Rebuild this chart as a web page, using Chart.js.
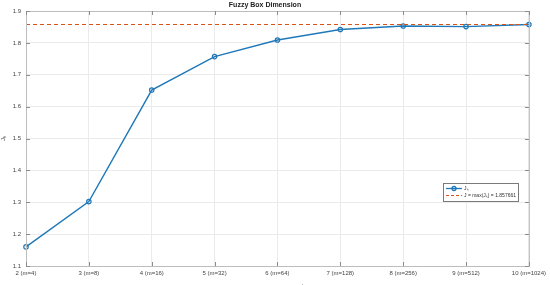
<!DOCTYPE html>
<html>
<head>
<meta charset="utf-8">
<script src="https://cdn.jsdelivr.net/npm/chart.js@4/dist/chart.umd.min.js"></script>
<style>
  html, body { margin: 0; padding: 0; overflow: hidden; background: #fff; }
  #wrap { width: 550px; height: 293px; }
</style>
</head>
<body>
<div id="wrap"><canvas id="chart"></canvas></div>
<script>
const scaleLabels = ["2 (m=4)", "3 (m=8)", "4 (m=16)", "5 (m=32)", "6 (m=64)",
  "7 (m=128)", "8 (m=256)", "9 (m=512)", "10 (m=1024)"];
const jkValues = [1.160, 1.302, 1.652, 1.757, 1.809, 1.842, 1.853, 1.851, 1.857661];
const jMax = 1.857661;
const maxLine = scaleLabels.map(() => jMax);

const FONT = "'Liberation Sans', Arial, sans-serif";
const BLUE = "#1f78b8";
const ORANGE = "#D95319";

// matlab style box, inner ticks and legend inside the axes
const matlabBox = {
  id: "matlabBox",
  afterDraw(chart) {
    const ctx = chart.ctx;
    const a = chart.chartArea;
    const xs = chart.scales.x;
    const ys = chart.scales.y;
    ctx.save();
    ctx.strokeStyle = "#bdbdbd";
    ctx.lineWidth = 1;
    ctx.strokeRect(a.left + 0.5, a.top + 0.5, a.right - a.left, a.bottom - a.top);

    ctx.strokeStyle = "#8c8c8c";
    ctx.beginPath();
    xs.ticks.forEach((t, i) => {
      const x = Math.round(xs.getPixelForTick(i)) + 0.5;
      ctx.moveTo(x, a.top); ctx.lineTo(x, a.top + 4);
      ctx.moveTo(x, a.bottom); ctx.lineTo(x, a.bottom - 4);
    });
    ys.ticks.forEach((t, i) => {
      const y = Math.round(ys.getPixelForTick(i)) + 0.5;
      ctx.moveTo(a.left, y); ctx.lineTo(a.left + 4, y);
      ctx.moveTo(a.right, y); ctx.lineTo(a.right - 4, y);
    });
    ctx.stroke();

    // legend
    const lx = 443, ly = 183, lw = 75, lh = 18;
    ctx.fillStyle = "#fff";
    ctx.fillRect(lx, ly, lw, lh);
    ctx.strokeStyle = "#7a7a7a";
    ctx.strokeRect(lx + 0.5, ly + 0.5, lw, lh);
    ctx.font = "5px " + FONT;
    ctx.textBaseline = "middle";
    ctx.fillStyle = "#333";
    const ds = chart.data.datasets;

    let y = ly + 5.5;
    ctx.strokeStyle = BLUE;
    ctx.lineWidth = 1.3;
    ctx.setLineDash([]);
    ctx.beginPath(); ctx.moveTo(lx + 3, y); ctx.lineTo(lx + 19, y); ctx.stroke();
    ctx.beginPath(); ctx.arc(lx + 11, y, 2, 0, Math.PI * 2); ctx.stroke();
    ctx.fillText(ds[0].label, lx + 21, y);

    y = ly + 12.5;
    ctx.strokeStyle = ORANGE;
    ctx.lineWidth = 1;
    ctx.setLineDash([3, 2]);
    ctx.beginPath(); ctx.moveTo(lx + 3, y); ctx.lineTo(lx + 19, y); ctx.stroke();
    ctx.setLineDash([]);
    ctx.fillText(ds[1].label, lx + 21, y);
    ctx.restore();
  }
};

new Chart(document.getElementById("chart"), {
  type: "line",
  data: {
    labels: scaleLabels,
    datasets: [
      {
        label: "J\u2096",
        data: jkValues,
        borderColor: BLUE,
        borderWidth: 1.4,
        pointStyle: "circle",
        pointRadius: 2.2,
        pointBorderWidth: 1.2,
        pointBorderColor: BLUE,
        pointBackgroundColor: "rgba(255,255,255,0)",
        tension: 0,
        order: 1
      },
      {
        label: "J = max(J\u2096) = 1.857661",
        data: maxLine,
        borderColor: ORANGE,
        borderWidth: 1.1,
        borderDash: [4, 3],
        pointRadius: 0,
        tension: 0,
        order: 0
      }
    ]
  },
  options: {
    responsive: true,
    maintainAspectRatio: false,
    animation: false,
    layout: { padding: { left: 0, right: 20, top: 0, bottom: 0 } },
    plugins: {
      legend: { display: false },
      tooltip: { enabled: false },
      title: {
        display: true,
        text: "Fuzzy Box Dimension",
        color: "#222",
        font: { family: FONT, size: 7, weight: "bold" },
        padding: { top: 1, bottom: 1.6 }
      }
    },
    scales: {
      x: {
        type: "category",
        offset: false,
        grid: { color: "#ebebeb", drawTicks: false },
        border: { display: false },
        ticks: {
          color: "#444",
          font: { family: FONT, size: 6 },
          padding: 4,
          maxRotation: 0,
          autoSkip: false
        },
        title: {
          display: true,
          text: "Scale level k (m = 2\u1d4f)",
          color: "#444",
          font: { family: FONT, size: 6 },
          padding: { top: 0, bottom: 2 }
        },
        afterFit(scale) { scale.height = 27; }
      },
      y: {
        min: 1.1,
        max: 1.9,
        grid: { color: "#ebebeb", drawTicks: false },
        border: { display: false },
        ticks: {
          stepSize: 0.1,
          color: "#444",
          font: { family: FONT, size: 6 },
          padding: 5,
          callback: (v) => v.toFixed(1)
        },
        title: {
          display: true,
          text: "J\u2096",
          color: "#444",
          font: { family: FONT, size: 6 },
          padding: { top: 0, bottom: 0 }
        },
        afterFit(scale) { scale.width = 26; }
      }
    }
  },
  plugins: [matlabBox]
});
</script>
</body>
</html>
